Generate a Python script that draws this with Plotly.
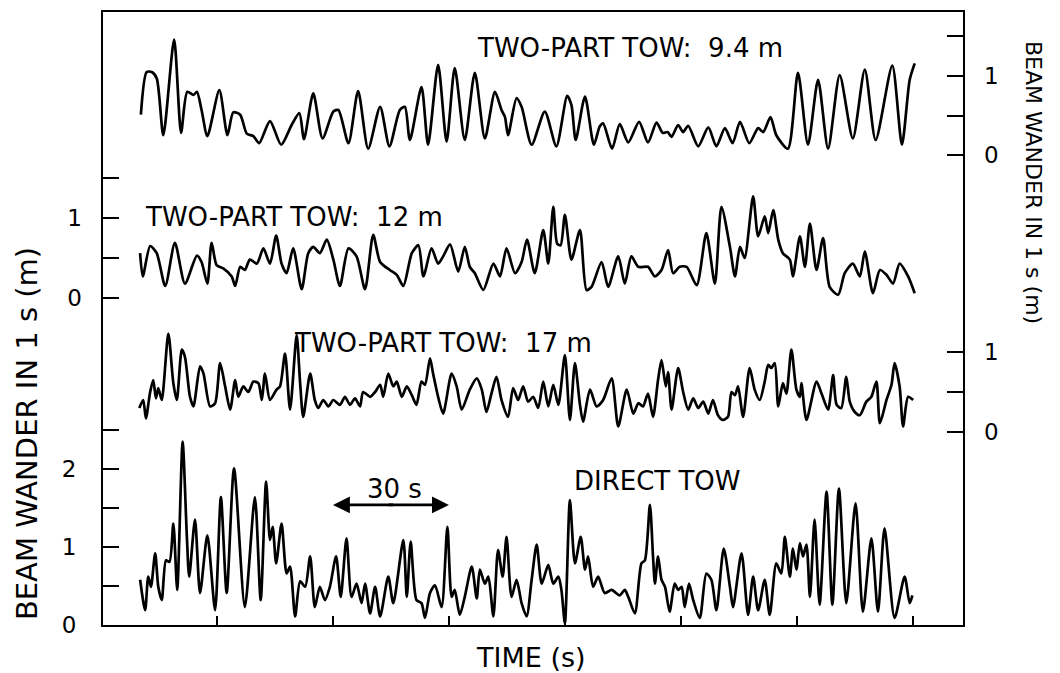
import plotly.graph_objects as go

# Beam wander in 1 s for three two-part tow lengths and a direct tow
# time in seconds, wander in metres

t_94 = [10.3, 11.8, 13.1, 14.4, 16.1, 18.9, 20.7, 22.3, 23.9, 24.8,
        26.0, 27.5, 30.6, 32.7, 34.2, 36.0, 37.7, 39.4, 40.9, 43.7,
        46.6, 49.3, 51.3, 52.5, 54.9, 57.3, 60.1, 61.4, 64.0, 66.5,
        69.1, 72.2, 74.6, 77.3, 78.6, 79.9, 82.9, 84.6, 87.2, 89.4,
        91.5, 94.1, 96.7, 99.3, 101.9, 103.6, 104.5, 105.3, 107.5, 108.8,
        111.4, 114.8, 117.8, 120.6, 121.7, 122.8, 125.2, 127.5, 129.0, 129.9,
        132.2, 134.2, 136.4, 139.2, 141.5, 143.7, 145.3, 146.6, 147.6, 149.3,
        150.6, 151.9, 154.5, 157.1, 159.2, 161.4, 163.4, 165.3, 167.7, 170.0,
        171.3, 173.2, 174.7, 177.7, 180.3, 182.9, 185.5, 188.1, 191.1, 194.5,
        197.6, 200.4, 204.7, 207.2, 209.2, 210.5]
w_94 = [0.51, 1.05, 1.05, 0.97, 0.25, 1.46, 0.28, 0.80, 0.76, 0.80,
        0.57, 0.24, 0.82, 0.25, 0.54, 0.51, 0.27, 0.24, 0.15, 0.43,
        0.13, 0.38, 0.53, 0.20, 0.78, 0.21, 0.55, 0.57, 0.15, 0.81,
        0.08, 0.61, 0.11, 0.57, 0.61, 0.19, 0.86, 0.13, 1.14, 0.17,
        1.10, 0.19, 1.04, 0.21, 0.80, 0.57, 0.48, 0.25, 0.72, 0.61,
        0.13, 0.55, 0.11, 0.75, 0.63, 0.19, 0.74, 0.13, 0.36, 0.40,
        0.08, 0.39, 0.16, 0.42, 0.16, 0.41, 0.28, 0.29, 0.23, 0.38,
        0.29, 0.37, 0.11, 0.35, 0.11, 0.34, 0.15, 0.42, 0.15, 0.34,
        0.29, 0.48, 0.25, 0.08, 1.04, 0.13, 0.95, 0.08, 1.01, 0.21,
        1.08, 0.19, 1.13, 0.13, 0.95, 1.16]

t_12 = [10.1, 10.8, 12.7, 14.4, 16.6, 19.1, 21.7, 24.8, 26.0, 27.5,
        28.6, 29.9, 31.6, 33.8, 34.7, 36.0, 37.2, 38.5, 40.3, 42.0,
        43.7, 45.3, 46.7, 48.0, 49.7, 51.9, 53.6, 54.9, 56.6, 58.4,
        60.1, 61.8, 64.0, 66.1, 68.3, 70.4, 72.2, 74.7, 76.5, 78.2,
        80.4, 82.1, 83.4, 85.5, 87.2, 88.5, 90.3, 92.4, 94.1, 95.4,
        96.7, 98.9, 101.5, 103.2, 104.9, 107.1, 108.8, 110.2, 112.2, 114.4,
        115.7, 117.0, 118.0, 118.9, 120.0, 121.7, 123.9, 125.6, 126.9, 129.5,
        131.2, 133.8, 135.5, 137.2, 139.0, 141.5, 143.3, 145.0, 146.7, 148.0,
        149.7, 151.5, 154.1, 156.6, 158.8, 160.5, 162.7, 164.0, 165.3, 166.5,
        168.7, 170.0, 171.7, 172.6, 173.9, 175.2, 176.4, 178.2, 179.0, 180.8,
        182.1, 183.4, 185.1, 186.8, 188.5, 190.7, 192.4, 194.5, 196.3, 197.6,
        199.7, 201.5, 203.2, 204.9, 206.6, 208.8, 210.5]
w_12 = [0.56, 0.27, 0.65, 0.56, 0.15, 0.69, 0.18, 0.53, 0.45, 0.18,
        0.69, 0.41, 0.37, 0.27, 0.15, 0.39, 0.35, 0.48, 0.43, 0.62,
        0.43, 0.78, 0.43, 0.31, 0.62, 0.11, 0.56, 0.64, 0.56, 0.73,
        0.48, 0.15, 0.62, 0.52, 0.11, 0.79, 0.45, 0.35, 0.29, 0.15,
        0.56, 0.66, 0.27, 0.62, 0.43, 0.52, 0.67, 0.33, 0.64, 0.39,
        0.31, 0.10, 0.43, 0.27, 0.62, 0.31, 0.45, 0.73, 0.31, 0.85,
        0.43, 1.14, 0.68, 0.66, 1.04, 0.48, 0.85, 0.10, 0.14, 0.45,
        0.14, 0.52, 0.18, 0.52, 0.39, 0.39, 0.27, 0.35, 0.60, 0.31,
        0.39, 0.39, 0.16, 0.81, 0.18, 1.14, 0.64, 0.27, 0.64, 0.50,
        1.27, 0.77, 1.02, 0.81, 1.10, 0.73, 0.56, 0.48, 0.27, 0.77,
        0.39, 0.93, 0.35, 0.75, 0.14, 0.04, 0.31, 0.43, 0.27, 0.58,
        0.06, 0.35, 0.29, 0.18, 0.43, 0.27, 0.06]

t_17 = [9.9, 10.9, 11.6, 12.7, 13.5, 14.2, 14.8, 15.7, 17.4, 18.7,
        19.6, 20.9, 21.7, 23.0, 23.9, 25.6, 26.5, 28.2, 29.5, 30.8,
        32.1, 33.4, 34.7, 35.5, 36.8, 38.1, 39.4, 40.7, 41.6, 42.4,
        43.7, 45.4, 46.3, 47.6, 48.9, 50.6, 51.5, 52.3, 54.1, 55.3,
        56.2, 57.5, 58.8, 60.1, 61.8, 63.1, 64.4, 65.7, 67.0, 67.8,
        69.6, 70.9, 72.2, 73.0, 74.3, 75.6, 76.5, 77.8, 79.1, 80.4,
        81.6, 82.9, 83.8, 85.1, 85.9, 87.2, 88.5, 90.7, 92.0, 93.3,
        95.4, 97.2, 98.5, 99.7, 101.0, 102.3, 103.6, 105.3, 106.6, 107.9,
        109.2, 110.5, 111.8, 113.1, 114.4, 115.7, 117.0, 118.3, 120.0, 121.3,
        122.6, 123.9, 124.7, 126.5, 128.2, 129.9, 132.1, 133.8, 136.0, 137.7,
        139.0, 140.2, 141.5, 142.8, 144.1, 145.0, 146.1, 146.7, 147.6, 149.3,
        150.6, 151.9, 153.2, 154.5, 155.8, 157.1, 158.3, 159.6, 160.9, 162.2,
        163.1, 164.0, 164.8, 166.1, 167.8, 169.1, 170.4, 171.7, 172.6, 173.4,
        174.3, 175.2, 176.4, 177.3, 178.6, 179.9, 180.8, 181.2, 182.5, 185.1,
        186.4, 188.1, 189.4, 190.3, 191.5, 192.8, 193.7, 195.0, 196.3, 198.0,
        199.3, 200.6, 201.5, 203.2, 204.5, 205.3, 206.6, 207.5, 208.8, 210.1]
w_17 = [0.30, 0.40, 0.17, 0.50, 0.65, 0.42, 0.55, 0.40, 1.23, 0.61,
        0.40, 1.03, 0.94, 0.44, 0.32, 0.82, 0.73, 0.32, 0.36, 0.86,
        0.57, 0.28, 0.65, 0.44, 0.57, 0.50, 0.63, 0.61, 0.40, 0.73,
        0.40, 0.53, 0.57, 0.98, 0.28, 1.21, 0.61, 0.19, 0.73, 0.40,
        0.30, 0.40, 0.32, 0.40, 0.34, 0.44, 0.34, 0.42, 0.32, 0.50,
        0.44, 0.50, 0.59, 0.44, 0.73, 0.57, 0.63, 0.44, 0.57, 0.46,
        0.34, 0.63, 0.59, 0.92, 0.73, 0.44, 0.23, 0.73, 0.57, 0.28,
        0.53, 0.67, 0.53, 0.25, 0.48, 0.69, 0.40, 0.19, 0.55, 0.40,
        0.57, 0.38, 0.44, 0.30, 0.63, 0.32, 0.59, 0.34, 0.96, 0.15,
        0.86, 0.34, 0.13, 0.53, 0.32, 0.40, 0.67, 0.07, 0.53, 0.23,
        0.36, 0.32, 0.48, 0.19, 0.65, 0.90, 0.57, 0.75, 0.28, 0.80,
        0.50, 0.28, 0.42, 0.30, 0.38, 0.23, 0.40, 0.21, 0.15, 0.19,
        0.50, 0.46, 0.57, 0.19, 0.80, 0.53, 0.40, 0.63, 0.84, 0.80,
        0.86, 0.32, 0.61, 0.48, 1.03, 0.53, 0.44, 0.61, 0.15, 0.63,
        0.48, 0.28, 0.71, 0.34, 0.30, 0.69, 0.38, 0.25, 0.21, 0.38,
        0.44, 0.63, 0.11, 0.40, 0.59, 0.86, 0.57, 0.07, 0.44, 0.40]

t_direct = [10.1, 11.4, 12.2, 12.9, 14.0, 14.8, 15.7, 16.8, 17.7, 18.7,
            19.7, 21.1, 22.2, 22.8, 24.3, 25.6, 27.5, 29.5, 31.0, 32.5,
            34.4, 37.2, 39.8, 41.3, 42.7, 43.7, 44.4, 45.3, 46.7, 48.0,
            48.9, 50.2, 51.5, 52.8, 54.1, 55.3, 56.6, 57.9, 59.2, 60.8,
            62.0, 63.5, 64.8, 66.1, 67.4, 68.3, 69.6, 70.9, 72.2, 74.3,
            75.6, 78.2, 79.1, 80.1, 81.6, 82.9, 83.8, 85.1, 86.4, 88.1,
            89.6, 90.7, 91.5, 92.8, 94.1, 95.9, 97.2, 98.0, 99.3, 100.2,
            101.5, 102.7, 103.9, 104.9, 106.2, 107.5, 108.8, 110.1, 111.4, 112.7,
            114.0, 115.7, 117.0, 118.3, 119.1, 120.0, 121.3, 122.6, 124.1, 125.2,
            126.0, 127.3, 128.6, 130.3, 132.1, 134.2, 135.5, 136.4, 138.1, 139.8,
            140.7, 142.0, 142.8, 143.3, 144.1, 145.0, 145.9, 147.1, 148.4, 149.3,
            150.2, 151.0, 152.1, 153.2, 154.9, 156.6, 157.9, 159.2, 161.1, 162.7,
            163.5, 165.7, 167.4, 168.7, 170.0, 171.7, 173.0, 174.7, 176.0, 176.9,
            178.2, 179.0, 179.9, 180.8, 181.6, 182.5, 183.4, 184.6, 185.9, 187.7,
            189.2, 190.9, 192.8, 195.2, 197.1, 199.3, 201.0, 202.7, 205.3, 207.9,
            209.2, 209.9]
w_direct = [0.58, 0.19, 0.62, 0.49, 0.92, 0.49, 0.32, 0.83, 0.81, 1.30,
            0.45, 2.35, 1.13, 0.62, 1.35, 0.41, 1.15, 0.19, 1.64, 0.41,
            2.01, 0.23, 1.64, 0.32, 1.84, 1.09, 1.26, 0.79, 1.30, 0.66,
            0.75, 0.11, 0.56, 0.49, 0.88, 0.23, 0.49, 0.32, 0.49, 0.88,
            0.36, 1.11, 0.36, 0.53, 0.28, 0.53, 0.15, 0.49, 0.11, 0.62,
            0.28, 1.09, 0.36, 1.07, 0.32, 0.28, 0.09, 0.41, 0.51, 0.23,
            1.26, 0.36, 0.45, 0.13, 0.36, 0.75, 0.34, 0.71, 0.53, 0.62,
            0.11, 0.96, 0.62, 1.13, 0.36, 0.58, 0.28, 0.11, 0.58, 1.03,
            0.53, 0.77, 0.53, 0.62, 0.45, 0.02, 1.60, 0.79, 1.13, 0.71,
            0.88, 0.49, 0.62, 0.41, 0.45, 0.38, 0.45, 0.36, 0.15, 0.79,
            0.83, 1.54, 0.88, 0.53, 0.88, 0.58, 0.49, 0.17, 0.53, 0.45,
            0.49, 0.23, 0.53, 0.32, 0.09, 0.66, 0.58, 0.19, 0.98, 0.49,
            0.23, 0.92, 0.13, 0.62, 0.19, 0.58, 0.13, 0.79, 0.66, 1.13,
            0.62, 0.98, 0.71, 1.05, 0.88, 1.03, 0.36, 1.35, 0.26, 1.71,
            0.26, 1.75, 0.28, 1.56, 0.17, 1.11, 0.17, 1.24, 0.09, 0.62,
            0.28, 0.38]

# tick positions along each scale
time_ticks = [30, 60, 90, 120, 150, 180, 210]
ticks_two = [0, 0.5, 1, 1.5]
ticks_two_text = ["0", "", "1", ""]
ticks_17 = [0, 0.5, 1]
ticks_17_text = ["0", "", "1"]
ticks_direct = [0, 0.5, 1, 1.5, 2, 2.5]
ticks_direct_text = ["0", "", "1", "", "2", ""]

FONT = "DejaVu Sans"
INK = "black"

fig = go.Figure()
line = dict(color=INK, width=2.7, shape="spline", smoothing=0.7)
fig.add_trace(go.Scatter(x=t_direct, y=w_direct, mode="lines", line=line, yaxis="y"))
fig.add_trace(go.Scatter(x=t_12, y=w_12, mode="lines", line=line, yaxis="y2"))
fig.add_trace(go.Scatter(x=t_17, y=w_17, mode="lines", line=line, yaxis="y3"))
fig.add_trace(go.Scatter(x=t_94, y=w_94, mode="lines", line=line, yaxis="y4"))


def yaxis(side, rng, vals, text, **kw):
    d = dict(side=side, range=rng, tickmode="array", tickvals=vals, ticktext=text,
             ticks="inside", ticklen=16, tickwidth=2, tickcolor=INK,
             showgrid=False, zeroline=False, showline=False,
             tickfont=dict(family=FONT, size=23, color=INK),
             ticklabelstandoff=20, fixedrange=True)
    d.update(kw)
    return d


fig.update_layout(
    width=1060, height=673,
    margin=dict(l=103, r=97, t=12, b=48, autoexpand=False),
    paper_bgcolor="white", plot_bgcolor="white",
    showlegend=False,
    font=dict(family=FONT, color=INK),
    xaxis=dict(range=[0.5, 223], tickmode="array", tickvals=time_ticks,
               ticks="inside", ticklen=9, tickwidth=2, tickcolor=INK,
               showticklabels=False, showgrid=False, zeroline=False,
               showline=True, mirror=True, linecolor=INK, linewidth=2),
    yaxis=yaxis("left", [0, 7.86], ticks_direct, ticks_direct_text,
                showline=True, mirror=True, linecolor=INK, linewidth=2),
    yaxis2=yaxis("left", [-4.0875, 3.575], ticks_two, ticks_two_text,
                 overlaying="y", anchor="x"),
    yaxis3=yaxis("right", [-2.4125, 5.25], ticks_17, ticks_17_text,
                 overlaying="y", anchor="x"),
    yaxis4=yaxis("right", [-5.949, 1.810], ticks_two, ticks_two_text,
                 overlaying="y", anchor="x"),
)

label_font = dict(family=FONT, size=26, color=INK)
annotations = [
    dict(text="TWO-PART TOW:  9.4 m", x=0.6128, y=0.9413),
    dict(text="TWO-PART TOW:  12 m", x=0.2221, y=0.6656),
    dict(text="TWO-PART TOW:  17 m", x=0.3953, y=0.4600),
    dict(text="DIRECT TOW", x=0.6453, y=0.2349),
    dict(text="30 s", x=0.3395, y=0.2215),
]
for a in annotations:
    fig.add_annotation(xref="paper", yref="paper", showarrow=False,
                       xanchor="center", yanchor="middle", font=label_font, **a)

fig.add_annotation(text="TIME (s)", xref="paper", yref="paper", x=0.4977, y=-0.0530,
                   showarrow=False, xanchor="center", yanchor="middle",
                   font=dict(family=FONT, size=27, color=INK))

fig.add_annotation(text="BEAM WANDER IN 1 s (m)", xref="paper", yref="paper",
                   x=-0.0884, y=0.313, textangle=-90, showarrow=False,
                   xanchor="center", yanchor="middle",
                   font=dict(family=FONT, size=29, color=INK))
fig.add_annotation(text="BEAM WANDER IN 1 s (m)", xref="paper", yref="paper",
                   x=1.0814, y=0.7227, textangle=90, showarrow=False,
                   xanchor="center", yanchor="middle",
                   font=dict(family=FONT, size=22, color=INK))

# double-headed 30 s scale arrow: two heads whose shafts overlap in the middle
for tip, tail in ((60, 76), (90, 74)):
    fig.add_annotation(x=tip, y=1.54, xref="x", yref="y", ax=tail, ay=1.54,
                       axref="x", ayref="y", text="", showarrow=True,
                       arrowhead=2, arrowsize=1.3, arrowwidth=2.6,
                       arrowcolor=INK, standoff=0, startstandoff=0)

fig.write_html("out.html")
